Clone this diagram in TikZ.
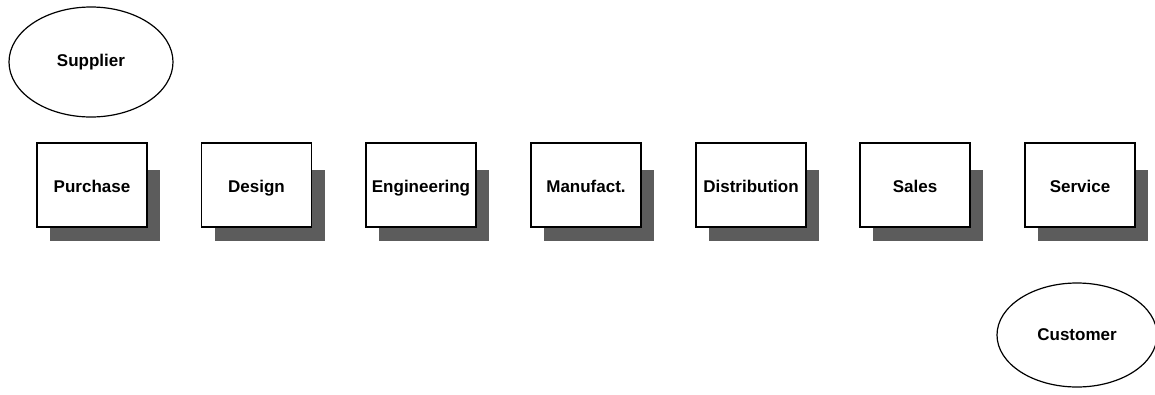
\documentclass[tikz,border=0pt]{standalone}
\usepackage{fontspec}
\setmainfont{Liberation Sans}
\usetikzlibrary{shapes.geometric}
\tikzset{
  stage/.style={draw=black, line width=1.4pt, fill=white, minimum width=110pt,
    minimum height=84pt, inner sep=0pt, text height=16pt, text depth=2pt,
    font=\bfseries\fontsize{17}{20}\selectfont},
  party/.style={draw=black, line width=1.2pt, ellipse, inner sep=0pt,
    font=\bfseries\fontsize{17}{20}\selectfont},
  shade/.style={fill=black!64, draw=none}
}
\begin{document}
\begin{tikzpicture}[x=1pt,y=-1pt]
  \useasboundingbox (0,0) rectangle (1155,394);
  % supplier and customer
  \node[party, minimum width=164pt, minimum height=110pt] (supplier) at (91,62) {Supplier};
  \node[party, minimum width=160pt, minimum height=104pt] (customer) at (1077,335) {Customer};
  % value chain stages with drop shadows
  \foreach \name/\label/\cx in {purchase/Purchase/92, design/Design/256.5,
      engineering/Engineering/421, manufact/Manufact./586,
      distribution/Distribution/751, sales/Sales/915, service/Service/1080} {
    \fill[shade] (\cx-42,170) rectangle (\cx+68,241);
    \node[stage] (\name) at (\cx,185) {\label};
  }
\end{tikzpicture}
\end{document}
